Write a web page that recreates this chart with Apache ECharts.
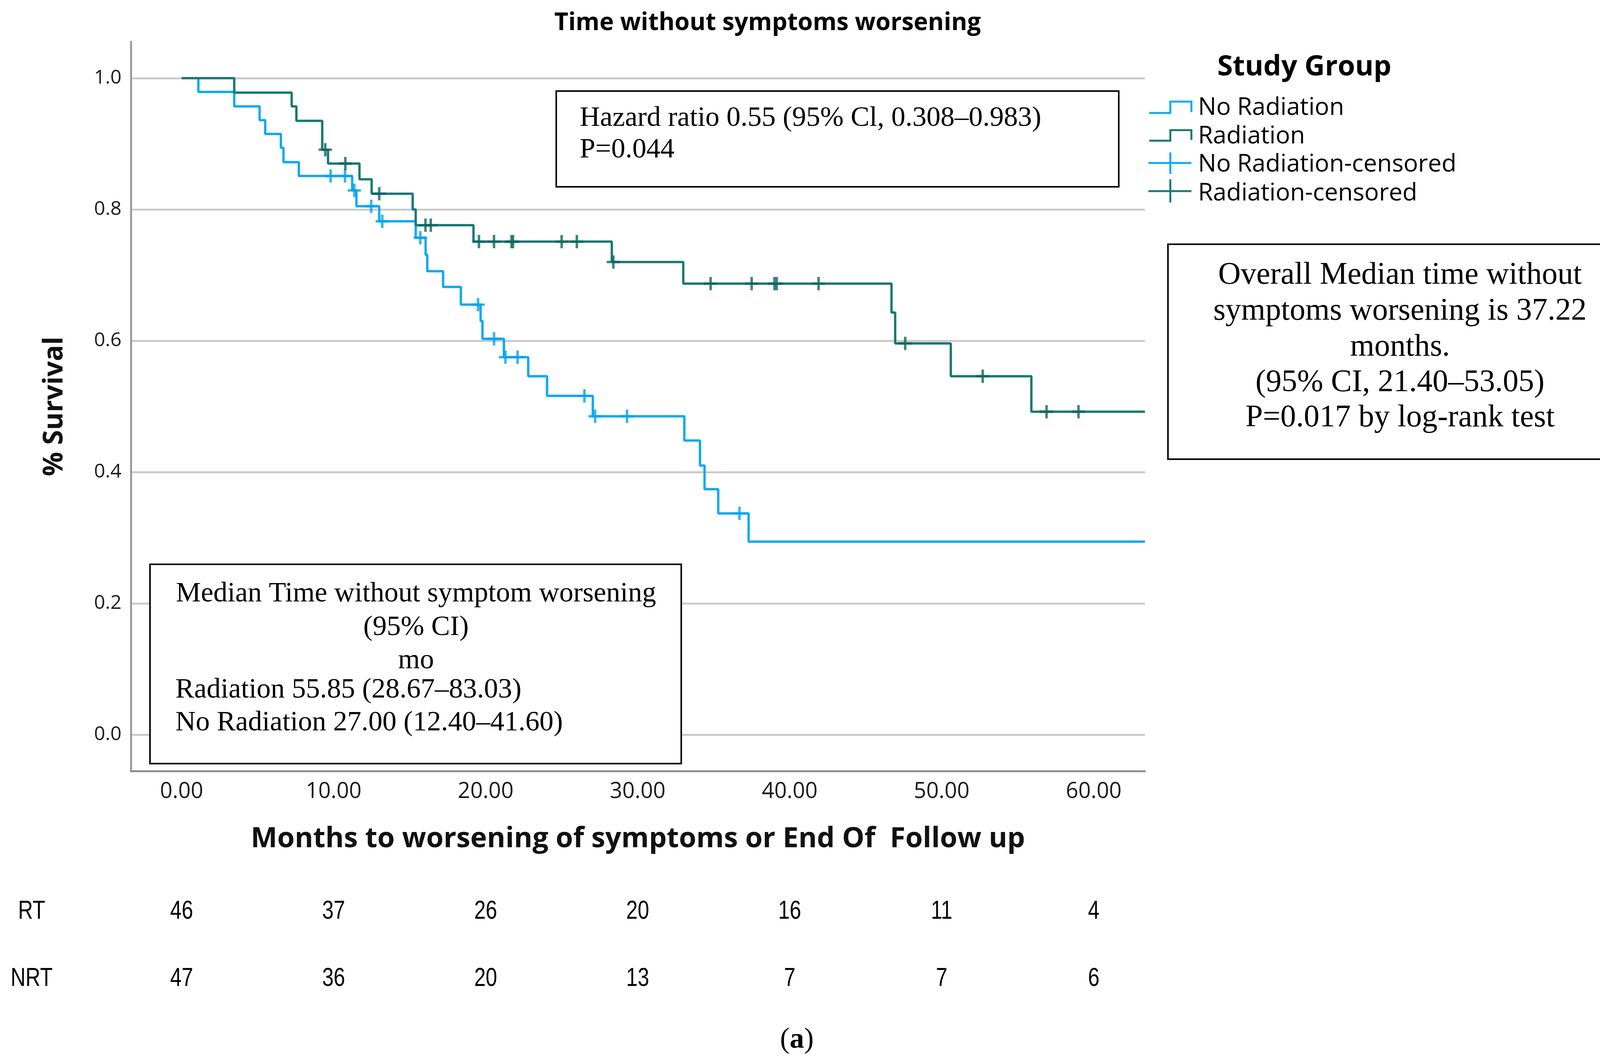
<!DOCTYPE html>
<html><head><meta charset="utf-8">
<script src="https://cdn.jsdelivr.net/npm/echarts@6/dist/echarts.min.js"></script>
<style>html,body{margin:0;padding:0;background:#fff}#c{width:4208px;height:2715px}</style>
</head><body><div id="c"></div>
<script>
// ---------------- data ----------------
const chartTitle = 'Time without symptoms worsening';
const xAxisTitle = 'Months to worsening of symptoms or End Of  Follow up';
const yAxisTitle = '% Survival';
const legendTitle = 'Study Group';
const legendLabels = ['No Radiation', 'Radiation', 'No Radiation-censored', 'Radiation-censored'];
const xTicks = [0, 10, 20, 30, 40, 50, 60];
const yTicks = [0, 0.2, 0.4, 0.6, 0.8, 1.0];

// Kaplan-Meier steps: [months, survival after the event]
const noRadSteps = [
  [0, 1.0], [1.1, 0.979], [3.46, 0.957], [5.13, 0.936], [5.5, 0.915], [6.53, 0.894], [6.7, 0.872],
  [7.71, 0.851], [11.22, 0.829], [11.5, 0.805], [13.0, 0.782], [15.4, 0.757], [16.05, 0.731],
  [16.16, 0.706], [17.2, 0.682], [18.37, 0.655], [19.67, 0.630], [19.79, 0.603], [21.2, 0.575],
  [22.8, 0.546], [24.04, 0.516], [27.05, 0.485], [33.07, 0.448], [34.1, 0.410], [34.4, 0.374],
  [35.3, 0.337], [37.3, 0.294], [63.37, 0.294]
];
const radSteps = [
  [0, 1.0], [3.46, 0.978], [7.24, 0.957], [7.55, 0.935], [9.25, 0.891], [9.63, 0.870],
  [11.7, 0.846], [12.5, 0.824], [15.2, 0.800], [15.4, 0.776], [19.2, 0.751], [28.3, 0.720],
  [33.0, 0.687], [46.7, 0.643], [46.94, 0.596], [50.6, 0.546], [55.9, 0.492], [63.37, 0.492]
];
// censored observations: [months, survival]
const noRadCensored = [
  [9.8, 0.851], [10.75, 0.851], [11.36, 0.829], [12.47, 0.805], [13.2, 0.782], [15.7, 0.757],
  [19.5, 0.655], [20.55, 0.603], [21.3, 0.575], [22.1, 0.575], [26.5, 0.516], [27.2, 0.485],
  [29.3, 0.485], [36.7, 0.337]
];
const radCensored = [
  [9.45, 0.891], [10.77, 0.870], [13.0, 0.824], [16.04, 0.776], [16.39, 0.776], [19.56, 0.751],
  [20.55, 0.751], [21.7, 0.751], [21.8, 0.751], [25.0, 0.751], [26.0, 0.751], [28.4, 0.720],
  [34.8, 0.687], [37.5, 0.687], [39.0, 0.687], [39.15, 0.687], [41.9, 0.687], [47.6, 0.596],
  [52.7, 0.546], [56.9, 0.492], [59.0, 0.492]
];
// numbers at risk
const riskTimes = [0, 10, 20, 30, 40, 50, 60];
const riskRowLabels = ['RT', 'NRT'];
const riskRT = [46, 37, 26, 20, 16, 11, 4];
const riskNRT = [47, 36, 20, 13, 7, 7, 6];

// annotation texts
const hazardLines = ['Hazard ratio 0.55 (95% Cl, 0.308\u20130.983)', 'P=0.044'];
const overallLines = ['Overall Median time without', 'symptoms worsening is 37.22', 'months.', '(95% CI, 21.40\u201353.05)', 'P=0.017 by log-rank test'];
const medianLines = ['Median Time without symptom worsening', '(95% CI)', 'mo', 'Radiation 55.85 (28.67\u201383.03)', 'No Radiation 27.00 (12.40\u201341.60)'];
const panelLabel = 'a';

// ---------------- style ----------------
const BLUE = '#0aa9f2';
const BLUE_DARK = '#00a2ef';
const TEAL = '#1a7873';
const TEAL_DARK = '#0c655f';
const SANS = '"Open Sans", "Noto Sans", sans-serif';
const SERIF = '"Liberation Serif", "DejaVu Serif", serif';
const ARIAL = '"Liberation Sans", Arial, sans-serif';
const plusPath = 'path://M13,0H19V13H32V19H19V32H13V19H0V13H13Z';

const chart = echarts.init(document.getElementById('c'), null, {renderer: 'canvas'});

chart.setOption({
  animation: false,
  backgroundColor: '#fff',
  grid: {left: 335, right: 1277, top: 107, bottom: 742, containLabel: false},
  xAxis: {
    type: 'value', min: -3.34, max: 63.37,
    axisLine: {show: true, onZero: false, lineStyle: {color: '#8e8e8e', width: 5}},
    axisTick: {show: false, customValues: xTicks},
    axisLabel: {customValues: xTicks, formatter: v => v.toFixed(2), fontFamily: SANS, fontSize: 56, color: '#1a1a1a', margin: 25},
    splitLine: {show: false},
    name: xAxisTitle, nameLocation: 'middle', nameGap: 138,
    nameTextStyle: {fontFamily: SANS, fontWeight: 'bold', fontSize: 72, color: '#111'}
  },
  yAxis: {
    type: 'value', min: -0.0554, max: 1.0554,
    axisLine: {show: true, onZero: false, lineStyle: {color: '#999', width: 5}},
    axisTick: {show: false, customValues: yTicks},
    axisLabel: {customValues: yTicks, formatter: v => v.toFixed(1), fontFamily: SANS, fontSize: 50, color: '#1a1a1a', margin: 24},
    splitLine: {show: true, lineStyle: {color: '#cacaca', width: 5}},
    name: yAxisTitle, nameLocation: 'middle', nameGap: 160, nameRotate: 90,
    nameTextStyle: {fontFamily: SANS, fontWeight: 'bold', fontSize: 69, color: '#111'}
  },
  series: [
    {name: 'No Radiation', type: 'line', step: 'end', data: noRadSteps, showSymbol: false, symbol: 'none',
     lineStyle: {color: BLUE, width: 6}, z: 3},
    {name: 'Radiation', type: 'line', step: 'end', data: radSteps, showSymbol: false, symbol: 'none',
     lineStyle: {color: TEAL, width: 6}, z: 4},
    {name: 'No Radiation-censored', type: 'scatter', data: noRadCensored, symbol: plusPath, symbolSize: 34,
     itemStyle: {color: BLUE_DARK}, z: 5},
    {name: 'Radiation-censored', type: 'scatter', data: radCensored, symbol: plusPath, symbolSize: 34,
     itemStyle: {color: TEAL_DARK}, z: 6}
  ]
});

// ---------------- annotations ----------------
const g = [];
function txt(x, y, text, font, size, opts) {
  opts = opts || {};
  g.push({type: 'text', x: x, y: y, z: 110, scaleX: opts.scaleX || 1, style: {
    text: text, fontFamily: font, fontSize: size, fill: opts.fill || '#000',
    fontWeight: opts.weight || 'normal', textAlign: opts.align || 'left', textVerticalAlign: 'middle'
  }});
}
function box(x, y, w, h) {
  g.push({type: 'rect', z: 100, shape: {x: x, y: y, width: w, height: h},
    style: {fill: '#fff', stroke: '#000', lineWidth: 4}});
}
function poly(points, color) {
  g.push({type: 'polyline', z: 110, shape: {points: points}, style: {stroke: color, lineWidth: 5, fill: null}});
}

txt(1965, 59, chartTitle, SANS, 62, {weight: 'bold', align: 'center'});

box(1424, 233, 1440, 245);
txt(1484, 303, hazardLines[0], SERIF, 72);
txt(1484, 384, hazardLines[1], SERIF, 72);

box(2990, 625, 1193, 550);
[705, 797, 889, 980, 1070].forEach((y, i) => txt(3584, y, overallLines[i], SERIF, 80, {align: 'center'}));

box(384, 1444, 1360, 510);
[1520, 1606, 1691].forEach((y, i) => txt(1065, y, medianLines[i], SERIF, 72, {align: 'center'}));
txt(449, 1766, medianLines[3], SERIF, 72);
txt(449, 1850, medianLines[4], SERIF, 72);

// legend
txt(3339, 172, legendTitle, SANS, 72, {weight: 'bold', align: 'center'});
poly([[2942, 289], [2996, 289], [2996, 260], [3050, 260], [3050, 287]], BLUE);
poly([[2942, 360], [2996, 360], [2996, 333], [3050, 333], [3050, 358]], TEAL);
poly([[2940, 417], [3050, 417]], BLUE); poly([[2996, 390], [2996, 445]], BLUE);
poly([[2940, 489], [3050, 489]], TEAL); poly([[2996, 459], [2996, 518]], TEAL);
[276, 349, 421, 495].forEach((y, i) => txt(3067, y, legendLabels[i], SANS, 62));

// number at risk table (x positions from the chart's own x scale)
txt(81, 2333, riskRowLabels[0], ARIAL, 66, {align: 'center', scaleX: 0.8});
txt(81, 2505, riskRowLabels[1], ARIAL, 66, {align: 'center', scaleX: 0.8});
riskTimes.forEach((t, i) => {
  const px = chart.convertToPixel({xAxisIndex: 0, yAxisIndex: 0}, [t, 0])[0];
  txt(px, 2333, String(riskRT[i]), ARIAL, 66, {align: 'center', scaleX: 0.8});
  txt(px, 2505, String(riskNRT[i]), ARIAL, 66, {align: 'center', scaleX: 0.8});
});

// panel label
g.push({type: 'text', x: 2040, y: 2662, z: 110, style: {
  text: '(' + '{b|' + panelLabel + '})', fontFamily: SERIF, fontSize: 74, fill: '#000',
  textAlign: 'center', textVerticalAlign: 'middle',
  rich: {b: {fontFamily: SERIF, fontSize: 74, fontWeight: 'bold', fill: '#000'}}
}});

chart.setOption({graphic: g});
</script>
</body></html>
